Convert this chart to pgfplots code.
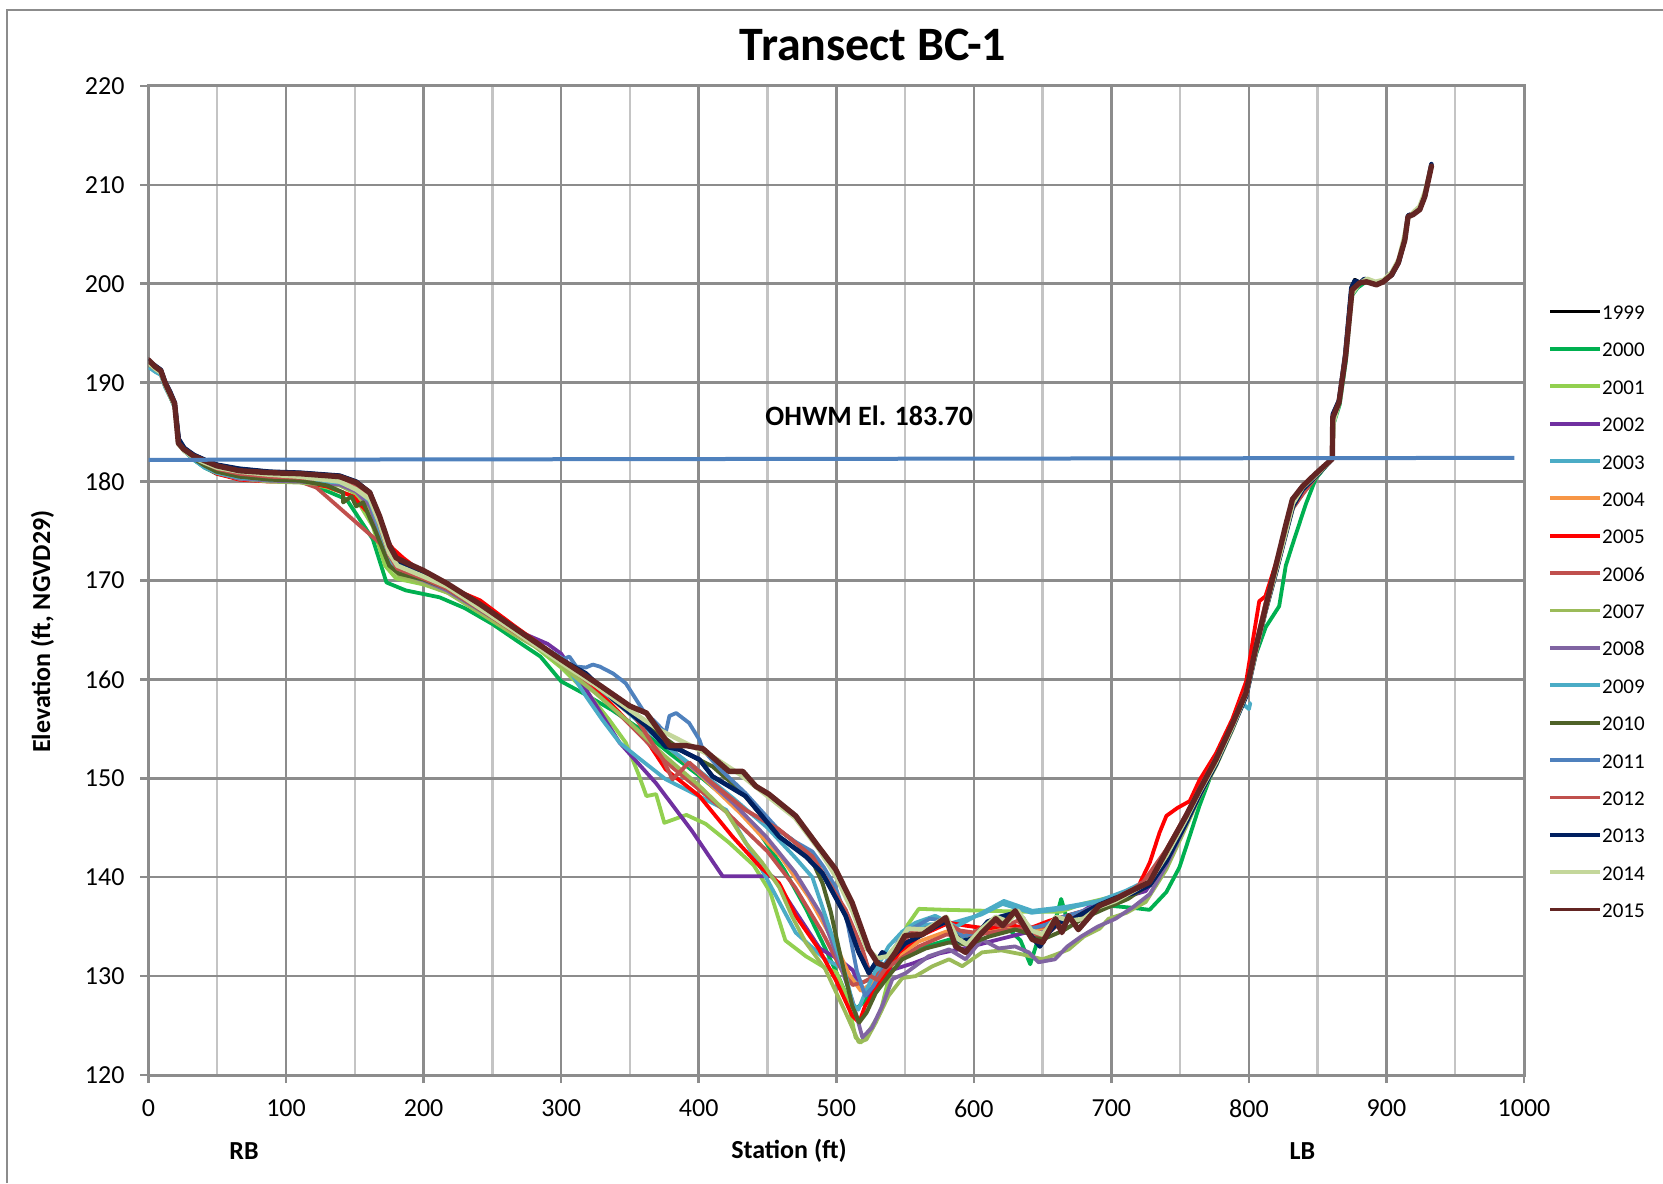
\documentclass[border=0pt]{standalone}
\usepackage{pgfplots}
\pgfplotsset{compat=1.18}
\usepackage{fontspec}
\setmainfont{Carlito}
\definecolor{c1999}{HTML}{000000}
\definecolor{c2000}{HTML}{00B050}
\definecolor{c2001}{HTML}{92D050}
\definecolor{c2002}{HTML}{7030A0}
\definecolor{c2003}{HTML}{4BACC6}
\definecolor{c2004}{HTML}{F79646}
\definecolor{c2005}{HTML}{FF0000}
\definecolor{c2006}{HTML}{C0504D}
\definecolor{c2007}{HTML}{9BBB59}
\definecolor{c2008}{HTML}{8064A2}
\definecolor{c2009}{HTML}{4BACC6}
\definecolor{c2010}{HTML}{4F6228}
\definecolor{c2011}{HTML}{4F81BD}
\definecolor{c2012}{HTML}{C0504D}
\definecolor{c2013}{HTML}{002060}
\definecolor{c2014}{HTML}{C4D79B}
\definecolor{c2015}{HTML}{632523}
\definecolor{ohwm}{HTML}{4F81BD}
\definecolor{gridmajor}{HTML}{8C8C8C}
\definecolor{gridminor}{HTML}{C4C4C4}
\definecolor{bordergray}{HTML}{8C8C8C}
\begin{document}
\begin{tikzpicture}
\useasboundingbox (0,0) rectangle (831.5pt,591.5pt);
\draw[bordergray, line width=1pt] (3.5pt,0pt) -- (3.5pt,586.5pt) -- (831.5pt,586.5pt);
\begin{axis}[
 at={(74.25pt,54pt)}, anchor=south west,
 width=687.75pt, height=494.5pt, scale only axis,
 xmin=0, xmax=1000, ymin=120, ymax=220,
 xtick distance=100, ytick distance=10,
 minor x tick num=1,
 grid=both,
 major grid style={draw=gridmajor, line width=1.3pt},
 minor grid style={draw=gridminor, line width=1.2pt},
 axis line style={draw=gridmajor, line width=1.5pt},
 tick align=outside, tick pos=left,
 major tick length=4pt, minor tick length=0pt,
 tick style={draw=gridmajor, line width=1.3pt},
 ticklabel style={font=\fontsize{13}{15}\selectfont},
 /pgf/number format/assume math mode=true,
 /pgf/number format/1000 sep={},
 xticklabel shift=4.7pt, yticklabel shift=4.5pt,
 legend style={at={(1.0174,0.7795)}, anchor=north west, draw=none, fill=none,
   inner sep=0pt, font=\fontsize{10.5}{12}\selectfont, row sep=8.69pt,
   nodes={inner sep=0pt, text height=7.5pt, text depth=2.5pt},
   /tikz/every even column/.append style={column sep=7.5pt}},
 legend cell align=left,
 legend image code/.code={\draw[#1, line width=1.9pt, line cap=butt] (0pt,1.5pt) -- (25pt,1.5pt);},
 every axis plot/.append style={line join=round, line cap=round, mark=none},
]
% 1999
\addplot[c1999, line width=1.9pt] table {
0 192.2
5 191.7
9 191.3
12 190.1
16 189.0
19 188.0
22 184.3
26 183.4
33 182.7
41 182.2
50 181.7
66 181.3
88 181.0
110 180.9
139 180.6
151 180.0
161 178.9
168 176.3
175 173.2
181 172.0
200 170.6
217 169.5
241 167.3
265 165.1
300 162.0
318 160.6
337.7 158.0
361.8 155.3
376 153.2
386 152.9
400.5 151.9
410 150.2
434 148.2
458.5 144.1
477.8 142.1
489.9 140.4
506.8 136.1
516 132.5
523.7 130.3
533.5 132.4
540 131.8
550 133.3
560 134.0
572 135.0
580 135.5
590 133.5
600 133.8
610 135.5
620 136.0
630 136.4
642 134.0
648 133.0
655 134.5
662 135.5
670 135.6
680 136.4
691 137.2
703 137.9
716 138.4
728 139.2
740 141.6
754 145.4
764 148.3
776 151.4
788 155.1
798 158.3
805 162.7
812 166.9
820 171.0
827 174.8
832 177.5
839 179.2
849 180.6
860.6 182.3
861 186.8
865.5 188.2
870 192.8
874.5 199.6
877 200.4
881 200.1
884 200.5
892 200.0
898 200.3
904 200.9
909 202.2
913.3 204.5
915.7 206.9
919.4 207.1
924.2 207.6
928 208.9
932.7 212.1
};
\addlegendentry{1999}
% 2000
\addplot[c2000, line width=1.9pt] table {
0 191.8
5 191.3
9 191.0
12 189.7
16 188.5
19 187.6
22 184.0
26 183.1
33 182.2
41 181.4
49.5 180.8
66 180.3
88 180.1
110 180.0
122 179.5
144 178.2
163 174.2
173 169.8
187 169.0
211.6 168.3
230 167.2
250 165.6
270 163.7
285 162.3
300 159.8
316 158.6
337 156.9
355 155.2
380 152.4
400 150.3
425 147.4
445 144.3
462 140.8
478 136.8
492 132.8
503 129.5
510 127.2
514 126.6
520 127.4
527 129.0
535 130.6
548 132.0
565 133.0
585 133.8
605 134.4
625 134.8
634 133.6
641 131.2
646 133.4
655 135.3
660 136.0
663.5 137.8
667 136.1
680 136.5
700 137.1
715.7 136.9
727.8 136.7
740 138.5
749.5 141.0
756.8 144.1
764 147.2
773.7 150.8
788 155.0
797.8 158.6
805 162.5
812.3 165.3
822 167.4
826.8 171.5
831.6 173.6
841.3 177.7
848.6 180.3
855 181.4
860.6 182.3
861.5 185.8
866 187.8
870.5 192.2
874.8 198.8
879 199.6
885 200.2
892 199.9
897.6 200.2
903.6 200.9
908.5 202.1
913.3 204.4
915.7 206.8
919.4 207.0
924.2 207.5
927.8 208.8
932.7 211.9
};
\addlegendentry{2000}
% 2001
\addplot[c2001, line width=1.9pt] table {
0 191.8
5 191.3
9 191.0
12 189.8
16 188.6
19 187.6
22 184.0
26 183.2
33 182.3
41 181.5
49.5 180.9
66 180.3
88 180.1
110 180.0
130 179.4
150 178.5
163 175.5
172 171.5
180 170.2
200 169.6
225 168.4
250 166.3
275 164.0
300 161.2
320 158.5
335 155.9
347 153.6
356 150.5
362 148.2
369 148.4
375 145.5
391 146.3
405 145.4
422 143.5
440 141.2
452 138.5
463 133.6
478 132.0
490 131.0
500 130.4
508 127.8
514 123.8
518 123.3
524 124.5
532 126.3
543.5 132.8
552 135.2
560 136.8
580 136.7
611 136.6
640 136.5
663 136.5
679 137.3
700 138.0
720 138.9
740 141.8
754 145.3
764 148.3
776 151.3
788 155.0
798 158.6
805 162.9
812 167.1
820 171.2
827 175.0
832 177.6
839 179.2
849 180.6
855 181.5
860.6 182.3
861.2 186.2
865.5 188.0
870.3 192.7
875 199.4
880.6 200.1
885.5 200.2
892.7 199.9
897.6 200.2
903.6 200.9
908.5 202.1
913.3 204.4
915.7 206.8
919.4 207.0
924.2 207.5
927.8 208.8
932.7 211.9
};
\addlegendentry{2001}
% 2002
\addplot[c2002, line width=1.9pt] table {
0 191.8
5 191.3
9 191.0
12 189.8
16 188.6
19 187.6
22 184.0
26 183.2
33 182.3
41 181.5
49.5 180.9
66 180.3
88 180.1
110 180.1
139 179.8
151 179.0
161 177.6
168 174.5
175 171.8
182 170.8
200 170.0
217 169.0
241 167.0
265 165.1
290 163.6
300 162.6
318 159.0
342.5 153.6
369 149.5
395 144.7
417.4 140.1
453.6 140.1
470 136.6
488 132.8
503 131.6
512 130.6
518 128.7
524 128.0
530 129.4
540 130.6
556 131.3
575 132.3
596 132.9
615 133.6
635 134.3
655 135.0
675 136.2
691 137.6
708 137.9
725 138.6
740 141.7
754 145.5
764 148.4
776 151.6
788 155.2
798 158.7
805 163.0
812 167.2
820 171.3
827 175.1
832 177.5
839 179.0
849 180.6
855 181.5
860.6 182.3
861.2 186.2
865.5 188.0
870.3 192.7
875 199.4
880.6 200.1
885.5 200.2
892.7 199.9
897.6 200.2
903.6 200.9
908.5 202.1
913.3 204.4
915.7 206.8
919.4 207.0
924.2 207.5
927.8 208.8
932.7 211.9
};
\addlegendentry{2002}
% 2003
\addplot[c2003, line width=1.9pt] table {
0 191.6
5 191.1
9 190.8
12 189.6
16 188.5
19 187.5
22 184.0
26 183.1
33 182.2
41 181.4
49.5 180.9
66 180.4
88 180.2
110 180.2
139 179.9
151 179.2
161 177.9
168 175.0
175 172.0
182 171.0
200 170.1
217 169.1
241 167.1
265 165.0
290 163.0
300 162.2
318 158.3
330 155.9
342.5 153.6
355 152.2
376 149.9
410 147.5
420 146.8
445 141.0
470.5 134.4
492 131.7
505 130.8
515 129.2
524 129.6
535 131.2
550 134.0
565 135.2
585 135.4
605 136.2
621 137.3
642 136.4
665 136.8
690 137.5
710 138.4
730 139.9
742 142.6
755 146.0
765 148.7
776 151.9
788 155.6
795 157.6
800 157.0
801 157.6
};
\addlegendentry{2003}
% 2004
\addplot[c2004, line width=1.9pt] table {
0 191.8
5 191.3
9 191.0
12 189.8
16 188.6
19 187.6
22 184.0
26 183.2
33 182.3
41 181.5
49.5 180.9
66 180.3
88 180.1
110 180.0
139 179.8
151 179.0
161 177.5
168 174.5
175 171.8
182 170.8
200 170.0
241 167.2
265 165.1
300 162.0
350 156.5
400 150.5
430 146.5
460 142.0
480 138.0
500 133.0
510 130.0
518 128.5
528 129.5
540 131.5
560 133.5
580 134.5
600 134.2
620 135.0
640 134.5
660 135.2
680 136.2
700 137.5
720 138.7
740 142.3
754 145.8
764 148.7
776 151.8
788 155.4
798 158.8
805 163.2
812 167.3
820 171.3
827 175.2
832 177.6
839 179.1
849 180.6
855 181.5
860.6 182.3
861.2 186.2
865.5 188.0
870.3 192.7
875 199.4
880.6 200.1
885.5 200.2
892.7 199.9
897.6 200.2
903.6 200.9
908.5 202.1
913.3 204.4
915.7 206.8
919.4 207.0
924.2 207.5
927.8 208.8
932.7 211.9
};
\addlegendentry{2004}
% 2005
\addplot[c2005, line width=1.9pt] table {
0 191.8
5 191.3
9 191.0
12 189.8
16 188.6
19 187.6
22 184.0
26 183.2
33 182.3
41 181.5
49.5 180.8
66 180.2
88 180.0
110 180.0
130 179.5
148.7 178.5
160 176.8
170 174.6
177.8 173.2
185 172.3
200 170.7
224 169.0
241 168.0
265 165.5
300 162.0
320 159.8
337.7 157.3
361.8 153.9
376 150.9
400.5 148.2
424.6 144.1
445 141.0
458.5 139.4
470.5 136.1
487.5 132.7
500 129.5
511.6 126.0
516.6 125.3
521 127.0
533.5 129.7
545.6 132.4
560 134.0
582 135.4
594 135.1
610 134.8
625 135.2
640 134.8
655 135.6
670 136.2
690 137.0
710 138.2
720 139.2
728 141.5
735 144.5
740 146.2
748 147.0
757 147.7
764 149.8
776 152.5
788 156.0
798 159.8
807.5 167.9
812 168.4
820 171.9
827 175.4
832 177.6
839 179.1
849 180.6
855 181.5
860.6 182.3
861.2 186.2
865.5 188.0
870.3 192.7
875 199.4
880.6 200.1
885.5 200.2
892.7 199.9
897.6 200.2
903.6 200.9
908.5 202.1
913.3 204.4
915.7 206.8
919.4 207.0
924.2 207.5
927.8 208.8
932.7 211.9
};
\addlegendentry{2005}
% 2006
\addplot[c2006, line width=1.9pt] table {
0 191.8
5 191.3
9 191.0
12 189.8
16 188.6
19 187.6
22 184.0
26 183.2
33 182.3
41 181.5
49.5 180.9
66 180.3
88 180.1
110 180.0
122 179.4
168 173.8
178 171.5
190 170.6
210 169.4
240 167.3
270 164.6
300 161.8
340 156.8
380 151.2
420 146.6
450 142.6
470 139.0
490 134.4
505 130.3
512 129.1
520 129.4
530 130.2
545 131.6
560 133.0
580 134.2
600 134.1
620 134.6
640 134.9
660 135.1
680 136.1
700 137.4
720 138.9
740 142.8
754 146.3
764 149.0
776 152.1
788 155.6
798 159.0
805 163.5
812 167.7
820 171.7
827 175.4
832 177.3
839 178.7
849 180.5
855 181.5
860.6 182.3
861.2 186.2
865.5 188.0
870.3 192.7
875 199.4
880.6 200.1
885.5 200.2
892.7 199.9
897.6 200.2
903.6 200.9
908.5 202.1
913.3 204.4
915.7 206.8
919.4 207.0
924.2 207.5
927.8 208.8
932.7 211.9
};
\addlegendentry{2006}
% 2007
\addplot[c2007, line width=1.9pt] table {
0 191.8
5 191.3
9 191.0
12 189.8
16 188.6
19 187.6
22 184.0
26 183.2
33 182.3
41 181.5
49.5 180.9
66 180.3
88 180.0
110 179.9
139 179.6
151 178.8
161 177.2
168 174.2
175 171.6
182 170.5
200 169.7
217 168.8
241 166.7
265 164.6
290 162.6
300 161.4
325 158.6
350 155.6
375 152.3
400 149.3
420 146.6
434 143.5
446 141.5
458.5 139.0
468 136.0
477.8 133.4
492 130.7
506.8 126.3
516.4 123.3
522 123.6
528.7 125.3
538 128.0
548 129.8
557.7 130.0
570 131.0
582 131.7
591.6 131.0
606 132.4
620 132.6
635 132.2
650 131.7
660 132.2
669 132.7
680 134.0
691.5 134.8
698 135.8
711 136.4
725 137.5
740 140.8
754 145.0
764 148.1
776 151.2
788 154.9
798 158.4
805 162.6
812 166.8
820 170.9
827 174.8
832 177.3
839 179.0
849 180.5
855 181.5
860.6 182.3
861.2 186.2
865.5 188.0
870.3 192.7
875 199.4
880.6 200.1
885.5 200.2
892.7 199.9
897.6 200.2
903.6 200.9
908.5 202.1
913.3 204.4
915.7 206.8
919.4 207.0
924.2 207.5
927.8 208.8
932.7 211.9
};
\addlegendentry{2007}
% 2008
\addplot[c2008, line width=1.9pt] table {
0 191.8
5 191.3
9 191.0
12 189.8
16 188.6
19 187.6
22 184.0
26 183.2
33 182.3
41 181.5
49.5 180.9
66 180.3
88 180.1
110 180.0
139 179.7
151 179.0
161 177.5
168 174.6
175 171.8
182 170.8
200 170.0
217 169.0
241 167.0
265 165.0
300 161.9
325 159.4
350 156.8
375 153.5
400 150.6
425 147.5
449 144.1
470 140.5
490 136.0
502 131.5
511.6 127.6
519 123.8
526 124.8
533.5 127.0
540.8 129.7
550.5 130.3
567 132.0
582 132.7
594 131.7
606 133.7
618 132.8
630 133.0
640 132.4
647 131.4
659 131.7
668 133.0
678 134.0
690 135.0
703 135.8
716 137.0
728 138.3
740 141.2
754 145.3
764 148.2
776 151.5
788 155.1
798 158.5
805 162.9
812 167.0
820 171.0
827 174.9
832 177.6
839 179.2
849 180.6
855 181.5
860.6 182.3
861.2 186.2
865.5 188.0
870.3 192.7
875 199.4
880.6 200.1
885.5 200.2
892.7 199.9
897.6 200.2
903.6 200.9
908.5 202.1
913.3 204.4
915.7 206.8
919.4 207.0
924.2 207.5
927.8 208.8
932.7 211.9
};
\addlegendentry{2008}
% 2009
\addplot[c2009, line width=1.9pt] table {
0 191.6
5 191.1
9 190.8
12 189.6
16 188.5
19 187.5
22 184.0
26 183.1
33 182.2
41 181.4
49.5 180.9
66 180.4
88 180.2
110 180.2
139 179.9
151 179.3
161 178.0
168 175.2
175 172.2
182 171.1
200 170.2
217 169.2
241 167.1
265 165.0
300 162.0
325 159.4
350 156.5
375 153.4
400 150.8
425 148.0
450 145.0
470 142.0
482.6 140.0
494.7 135.0
507 130.0
512 127.2
516 126.6
521 128.3
530 131.0
538 133.0
548 134.5
557.7 135.4
572 136.1
587 135.0
606 136.4
621.9 137.6
642.5 136.6
666.6 137.0
690.8 137.6
710 138.6
728 139.8
740 142.4
754 145.8
764 148.6
776 151.7
788 155.3
798 158.7
805 163.1
812 167.2
820 171.2
827 175.1
832 177.7
839 179.3
849 180.7
855 181.5
860.6 182.3
861.2 186.2
865.5 188.0
870.3 192.7
875 199.4
880.6 200.1
885.5 200.2
892.7 199.9
897.6 200.2
903.6 200.9
908.5 202.1
913.3 204.4
915.7 206.8
919.4 207.0
924.2 207.5
927.8 208.8
932.7 211.9
};
\addlegendentry{2009}
% 2010
\addplot[c2010, line width=2pt] table {
0 191.9
5 191.4
9 191.0
12 189.8
16 188.6
19 187.6
22 184.0
26 183.2
33 182.3
41 181.6
49.5 181.0
66 180.5
88 180.2
110 180.1
130 179.6
141.5 178.9
141.5 177.9
147.5 178.5
151 177.5
156 177.9
165 175.0
175 171.5
182 170.7
200 170.1
217 169.2
241 167.1
265 165.0
300 162.0
325 159.6
350 157.0
374 154.2
390 152.6
410 151.2
430 148.8
446 146.2
460 144.6
470.5 143.5
482 141.8
490 139.4
496 136.5
502 132.7
511.6 127.0
516.6 125.3
522 126.3
528.7 128.3
538 130.0
548 131.7
565 132.8
582 133.4
596 133.2
611 134.0
630 134.7
640 134.3
650 133.7
665 134.6
679 135.8
695 136.8
712 137.8
728 139.3
740 142.0
754 145.6
764 148.5
776 151.6
788 155.2
798 158.6
805 163.0
812 167.1
820 171.1
827 175.0
832 177.7
839 179.3
849 180.6
855 181.5
860.6 182.3
861.2 186.2
865.5 188.0
870.3 192.7
875 199.4
880.6 200.1
885.5 200.2
892.7 199.9
897.6 200.2
903.6 200.9
908.5 202.1
913.3 204.4
915.7 206.8
919.4 207.0
924.2 207.5
927.8 208.8
932.7 211.9
};
\addlegendentry{2010}
% 2011
\addplot[c2011, line width=1.9pt] table {
0 192.0
5 191.5
9 191.1
12 189.9
16 188.7
19 187.8
22 184.1
26 183.3
33 182.5
41 182.0
49.5 181.5
66 181.1
88 180.9
110 180.7
139 180.4
151 179.7
161 178.5
168 175.8
175 172.8
182 171.6
200 170.5
217 169.4
241 167.3
265 165.1
290 163.0
300 162.0
306 162.3
311 161.3
318 161.2
323 161.5
328 161.3
337.7 160.6
347 159.6
359.4 156.9
369 155.6
376 154.6
378.7 156.3
383.6 156.6
393 155.6
400.5 153.9
403 152.9
415 151.0
434 148.5
458 144.8
470 143.6
482.6 142.6
491 141.0
499.5 139.0
508 135.5
515 130.5
521 128.0
527 129.0
535 131.0
545 133.5
555 134.8
568 135.8
580 135.6
592 134.0
605 134.6
618 136.0
630 136.4
642 134.8
652 135.2
665 136.0
680 136.6
692 137.3
705 138.0
718 138.8
730 139.8
742 142.2
755 145.7
765 148.6
776 151.6
788 155.2
798 158.5
805 162.9
812 167.1
820 171.1
827 175.0
832 177.8
839 179.3
849 180.7
855 181.5
860.6 182.3
861.2 186.2
865.5 188.0
870.3 192.7
875 199.4
880.6 200.1
885.5 200.2
892.7 199.9
897.6 200.2
903.6 200.9
908.5 202.1
913.3 204.4
915.7 206.8
919.4 207.0
924.2 207.5
927.8 208.8
932.7 211.9
};
\addlegendentry{2011}
% 2012
\addplot[c2012, line width=2pt] table {
0 192.1
5 191.5
9 191.1
12 189.9
16 188.7
19 187.8
22 184.2
26 183.4
33 182.5
41 181.9
50 181.3
66 180.8
88 180.5
110 180.4
139 180.1
151 179.4
161 178.3
168 175.6
175 172.6
181 171.2
200 170.2
217 169.2
241 167.1
265 164.9
300 161.8
325 159.5
350 157.0
374 151.9
381 149.9
393 151.6
410 149.5
434 146.8
458.5 144.8
482.6 142.1
506.8 136.7
519 132.7
525 130.0
530 129.6
537 131.0
545 133.0
555 134.4
565 134.8
580 135.4
590 134.6
600 134.4
612 135.4
622 135.0
632 135.6
642 134.3
652 134.1
662 135.3
672 135.8
682 136.6
692 137.2
703 137.9
716 138.8
728 140.0
740 142.8
754 146.2
764 148.9
776 152.0
788 155.4
798 158.8
805 163.4
812 167.6
820 171.6
827 175.4
832 177.4
839 178.8
849 180.6
855 181.5
860.6 182.3
861.2 186.2
865.5 188.0
870.3 192.7
875 199.4
880.6 200.1
885.5 200.2
892.7 199.9
897.6 200.2
903.6 200.9
908.5 202.1
913.3 204.4
915.7 206.8
919.4 207.0
924.2 207.5
927.8 208.8
932.7 211.9
};
\addlegendentry{2012}
% 2013
\addplot[c2013, line width=2.3pt] table {
0 192.2
5 191.7
9 191.3
12 190.1
16 189.0
19 188.0
22 184.3
26 183.4
33 182.7
41 182.2
50 181.7
66 181.3
88 181.0
110 180.9
139 180.6
151 180.0
161 178.9
168 176.3
175 173.2
181 172.0
200 170.6
217 169.5
241 167.3
265 165.1
300 162.0
318 160.6
337.7 158.0
361.8 155.3
376 153.2
386 152.9
400.5 151.9
410 150.2
434 148.2
458.5 144.1
477.8 142.1
489.9 140.4
506.8 136.1
516 132.5
523.7 130.3
533.5 132.4
540 131.8
550 133.3
560 134.0
572 135.0
580 135.5
590 133.5
600 133.8
610 135.5
620 136.0
630 136.4
636 135.8
642 134.0
648 133.0
655 134.5
662 135.5
670 135.6
680 136.4
691 137.2
703 137.9
716 138.4
728 139.2
740 141.6
754 145.4
764 148.3
776 151.4
788 155.1
798 158.3
805 162.7
812 166.9
820 171.0
827 174.8
832 177.5
839 179.2
849 180.6
860.6 182.3
861 186.8
865.5 188.2
870 192.8
874.5 199.6
877 200.3
881 200.1
884 200.5
892 200.0
898 200.3
904 200.9
909 202.2
913.3 204.5
915.7 206.9
919.4 207.1
924.2 207.6
928 208.9
932.7 212.1
};
\addlegendentry{2013}
% 2014
\addplot[c2014, line width=2.3pt] table {
0 192.0
5 191.4
9 191.0
12 189.8
16 188.6
19 187.7
21.7 183.8
26 183.1
33 182.4
41 181.9
50 181.4
66 181.0
88 180.7
110 180.5
139 180.0
151 179.2
161 178.2
168 175.8
175 172.8
181 171.5
200 170.4
217 169.4
241 167.2
265 165.0
300 161.7
325 159.4
350 156.9
370 155.0
390 153.6
410 152.2
430 150.4
450 148.2
470 146.0
487 142.9
500 140.0
512 136.5
522 132.8
530 131.8
537 132.0
545 133.3
552 134.8
565 134.7
580 136.0
588 133.8
595 133.2
606 134.8
616 136.0
625 135.5
632 136.6
642 134.6
650 134.2
660 136.0
670 135.6
680 135.8
691 137.0
703 137.6
716 138.6
728 139.6
740 142.2
754 145.8
764 148.6
776 151.6
788 155.2
798 158.5
805 162.8
812 167.0
820 171.2
827 175.0
832 177.8
839 179.4
849 180.7
860.6 182.3
861.5 186.0
866 188.2
870.5 193.0
875 199.0
880 200.0
886 200.5
892 200.2
898 200.4
904 201.2
909 202.5
913 204.8
915.7 206.6
920 207.3
924 207.8
928 209.3
932.7 211.9
};
\addlegendentry{2014}
% 2015
\addplot[c2015, line width=2.7pt] table {
0 192.3
5 191.6
9 191.2
12 190.0
16 188.8
19 187.9
21.7 183.9
25.4 183.3
32.6 182.6
41 182.1
49.5 181.6
66 181.1
88 180.9
110 180.8
139 180.5
151 179.9
160.8 178.9
168 176.5
175.3 173.5
180 172.3
187.4 171.8
200 171.0
217 169.7
241 167.6
265 165.3
300 162.0
325 159.7
350 157.3
362 156.6
379 153.3
391 153.3
403 153.0
422 150.7
432 150.7
441.5 149.2
451 148.4
470.5 146.2
487 143.1
499.5 140.8
511.6 137.4
523.7 132.7
530 131.3
536 131.0
543 132.4
550 134.1
562.6 134.2
579.5 135.9
586.8 133.0
594 132.4
606 134.4
616 135.8
621 135.1
630 136.6
642.5 133.7
650 133.4
659.4 135.8
664 134.4
669 136.1
676 134.7
691 137.1
703 137.8
715.7 138.7
727.8 139.5
739.9 142.6
754.3 146.2
764 148.8
776 151.9
788 155.5
797.8 158.6
805 163.2
812.3 167.4
819.6 171.5
826.8 175.6
831.6 178.2
838.9 179.5
848.6 180.8
860.6 182.3
861 186.5
865.5 188.0
870.3 192.7
875 199.4
880.6 200.1
885.5 200.2
892.7 199.9
897.6 200.2
903.6 200.9
908.5 202.1
913.3 204.4
915.7 206.8
919.4 207.0
924.2 207.5
927.8 208.8
932.7 211.9
};
\addlegendentry{2015}
% OHWM line
\addplot[ohwm, line width=2pt, forget plot, line cap=butt] coordinates {(0,182.2) (993,182.4)};
\node[font=\bfseries\fontsize{14}{16}\selectfont] at (axis cs:524,186.7) {OHWM El. 183.70};
\end{axis}
\node[font=\bfseries\fontsize{24}{28}\selectfont] at (436.5pt,569.25pt) {Transect BC-1};
\node[font=\bfseries\fontsize{13}{15}\selectfont, rotate=90] at (21.2pt,275.7pt) {Elevation (ft, NGVD29)};
\node[font=\bfseries\fontsize{13}{15}\selectfont] at (394.5pt,16.1pt) {Station (ft)};
\node[font=\bfseries\fontsize{13}{15}\selectfont] at (122pt,16.1pt) {RB};
\node[font=\bfseries\fontsize{13}{15}\selectfont] at (651.2pt,16.1pt) {LB};
\end{tikzpicture}
\end{document}
